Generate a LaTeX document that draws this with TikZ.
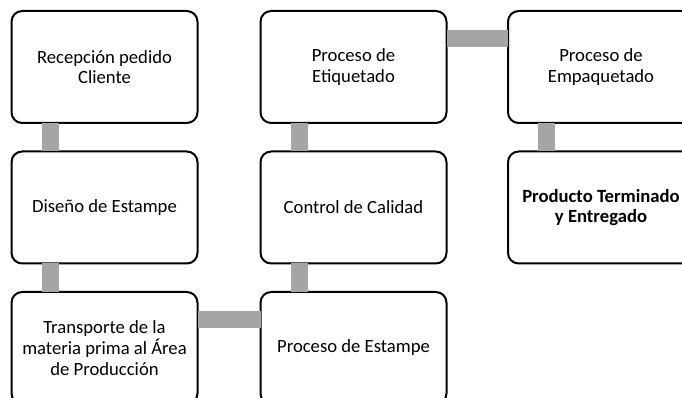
\documentclass[tikz,border=0pt]{standalone}
\usepackage{fontspec}
\setmainfont{Carlito}
\definecolor{bargray}{HTML}{A5A5A5}
\begin{document}
\begin{tikzpicture}[x=0.75pt,y=-0.75pt,
  stepbox/.style={draw=black,line width=1.5pt,rounded corners=8pt,fill=white,
    minimum width=139.5pt,minimum height=84pt,inner sep=2pt,outer sep=0pt,
    align=center,font=\fontsize{14pt}{15.5pt}\selectfont},
  bar/.style={draw=bargray,line width=12.75pt}]
\useasboundingbox (0,0) rectangle (682,398);
\node[stepbox] (n1) at (104.5,67) {Recepción pedido\\Cliente};
\node[stepbox] (n2) at (104.5,207.5) {Diseño de Estampe};
\node[stepbox] (n3) at (104.5,348) {Transporte de la\\materia prima al Área\\de Producción};
\node[stepbox] (n4) at (353.5,348) {Proceso de Estampe};
\node[stepbox] (n5) at (353.5,207.5) {Control de Calidad};
\node[stepbox] (n6) at (353.5,67) {Proceso de\\Etiquetado};
\node[stepbox] (n7) at (601,67) {Proceso de\\Empaquetado};
\node[stepbox,font=\fontsize{14pt}{15.5pt}\selectfont\bfseries] (n8) at (601,207.5) {Producto Terminado\\y Entregado};
\draw[bar] ([xshift=28.875pt]n1.south west) -- ([xshift=28.875pt]n2.north west);
\draw[bar] ([xshift=28.875pt]n2.south west) -- ([xshift=28.875pt]n3.north west);
\draw[bar] ([yshift=-21pt]n3.north east) -- ([yshift=-21pt]n4.north west);
\draw[bar] ([xshift=28.875pt]n4.north west) -- ([xshift=28.875pt]n5.south west);
\draw[bar] ([xshift=28.875pt]n5.north west) -- ([xshift=28.875pt]n6.south west);
\draw[bar] ([yshift=-21pt]n6.north east) -- ([yshift=-21pt]n7.north west);
\draw[bar] ([xshift=28.875pt]n7.south west) -- ([xshift=28.875pt]n8.north west);
\end{tikzpicture}
\end{document}
